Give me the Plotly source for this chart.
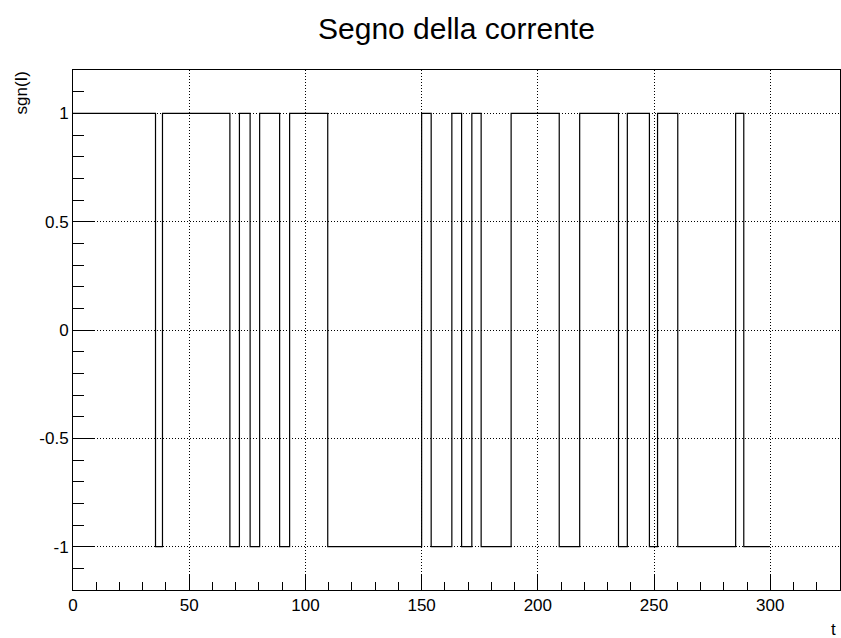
import plotly.graph_objects as go

# Sign-change times (t) and the level held from each time on
t_points = [0, 35.5, 38.5, 67.5, 71.6, 76.2, 80.3, 88.9, 93.2, 109.6, 150.0,
            154.1, 163.0, 167.2, 171.6, 175.6, 188.5, 209.2, 218.0, 234.7,
            238.5, 248.0, 251.5, 260.2, 285.1, 288.6, 299.7]
sgn_values = [1, -1, 1, -1, 1, -1, 1, -1, 1, -1, 1,
              -1, 1, -1, 1, -1, 1, -1, 1, -1,
              1, -1, 1, -1, 1, -1, -1]

x_ticks = [0, 50, 100, 150, 200, 250, 300]
y_ticks = [-1, -0.5, 0, 0.5, 1]
y_tick_labels = ["-1", "-0.5", "0", "0.5", "1"]

FONT = "Liberation Sans, Arial, Helvetica, sans-serif"

fig = go.Figure()
fig.add_trace(go.Scatter(
    x=t_points, y=sgn_values, mode="lines", line_shape="hv",
    line=dict(color="black", width=1.2), showlegend=False, hoverinfo="skip"))

axis_common = dict(
    showline=True, linecolor="black", linewidth=1, mirror=True,
    ticks="inside", tickcolor="black", tickwidth=1,
    showgrid=True, gridcolor="black", griddash="1px,2px", gridwidth=1,
    zeroline=False, tickfont=dict(family=FONT, size=17, color="black"),
)

fig.update_xaxes(range=[0, 330], tickvals=x_ticks, ticklen=15,
                 minor=dict(dtick=10, ticks="inside", ticklen=8,
                            tickcolor="black", showgrid=False),
                 **axis_common)
fig.update_yaxes(range=[-1.2, 1.2], tickvals=y_ticks, ticktext=y_tick_labels,
                 ticklen=22,
                 minor=dict(dtick=0.1, ticks="inside", ticklen=11,
                            tickcolor="black", showgrid=False),
                 **axis_common)

fig.update_layout(
    width=841, height=638,
    margin=dict(l=73, r=1, t=70, b=48),
    paper_bgcolor="white", plot_bgcolor="white",
    font=dict(family=FONT, color="black"),
    annotations=[
        dict(text="Segno della corrente", xref="paper", yref="paper",
             x=0.5, y=1, yshift=42, xanchor="center", yanchor="middle",
             showarrow=False, font=dict(family=FONT, size=30, color="black")),
        dict(text="sgn(I)", xref="paper", yref="paper", x=0, y=1,
             xshift=-52, xanchor="center", yanchor="top", textangle=-90,
             showarrow=False, font=dict(family=FONT, size=17, color="black")),
        dict(text="t", xref="paper", yref="paper", x=1, y=0,
             xshift=-2, yshift=-28, xanchor="right", yanchor="top",
             showarrow=False, font=dict(family=FONT, size=17, color="black")),
    ],
)

fig.write_html("out.html")
